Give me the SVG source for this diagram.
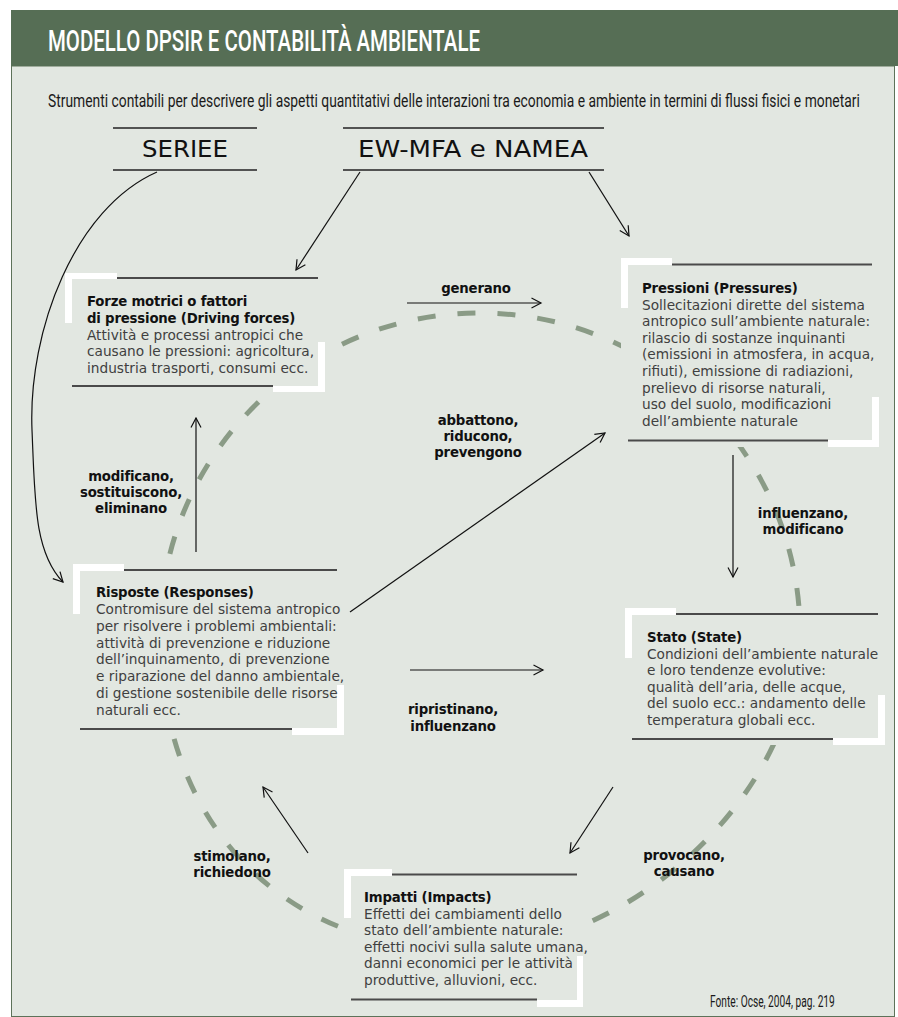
<svg xmlns="http://www.w3.org/2000/svg" width="898" height="1017" viewBox="0 0 898 1017">
<defs>
<marker id="arr" viewBox="0 0 12 12" refX="10.5" refY="6" markerWidth="12" markerHeight="12" markerUnits="userSpaceOnUse" orient="auto">
<path d="M1,1 L10.5,6 L1,11" fill="none" stroke="#111" stroke-width="1.2"/>
</marker>
<style>
.bg{fill:#e2e7e1}
.w{fill:#ffffff}
.edge{stroke:#4a4a4a;stroke-width:1.8}
.rule{stroke:#222;stroke-width:1.3}
.ttl{font-family:'DejaVu Sans','Liberation Sans',sans-serif;font-size:13.3px;font-weight:700;fill:#111;letter-spacing:-0.2px}
.txt{font-family:'DejaVu Sans','Liberation Sans',sans-serif;font-size:13.7px;fill:#404040}
.lbl{font-family:'DejaVu Sans','Liberation Sans',sans-serif;font-size:13.3px;font-weight:700;fill:#111;text-anchor:middle;letter-spacing:-0.2px}
.con{fill:none;stroke:#111;stroke-width:1.2;marker-end:url(#arr)}
.cond{font-family:Roboto,'Liberation Sans',sans-serif}
.big{font-family:'DejaVu Sans','Liberation Sans',sans-serif;font-size:23px;fill:#111;text-anchor:middle}
</style>
</defs>
<rect x="0" y="0" width="898" height="1017" fill="#ffffff"/>
<rect x="11.5" y="66" width="883" height="950.5" class="bg" stroke="#5d7259" stroke-width="1"/>
<rect x="11" y="10" width="887" height="56" fill="#566e55"/>
<text class="cond" x="48" y="50.5" font-size="30" font-weight="500" fill="#ffffff" textLength="432" lengthAdjust="spacingAndGlyphs">MODELLO DPSIR E CONTABILITÀ AMBIENTALE</text>
<text class="cond" transform="translate(48,107) scale(0.73,1)" x="0" y="0" font-size="19" fill="#1a1a1a" textLength="1112" lengthAdjust="spacingAndGlyphs">Strumenti contabili per descrivere gli aspetti quantitativi delle interazioni tra economia e ambiente in termini di flussi fisici e monetari</text>

<g id="seriee">
<line class="rule" x1="113" y1="128" x2="257" y2="128"/>
<line class="rule" x1="113" y1="170" x2="257" y2="170"/>
<text class="big" x="185" y="157" textLength="86" lengthAdjust="spacingAndGlyphs">SERIEE</text>
</g>
<g id="ewmfa">
<line class="rule" x1="343" y1="128" x2="604" y2="128"/>
<line class="rule" x1="343" y1="170" x2="604" y2="170"/>
<text class="big" x="473" y="157" textLength="230" lengthAdjust="spacingAndGlyphs">EW-MFA e NAMEA</text>
</g>

<path id="cycle" d="M160,633 C160,456.3 303.3,313 480,313 C656.7,313 800,456.3 800,633 C800,791.5 632.5,950 465,950 C282,950 160,823 160,633 Z" fill="none" stroke="#8a9b86" stroke-width="5" stroke-dasharray="18 22"/>

<g id="connectors">
<path class="con" d="M157,172 C75,208 28,330 32,430 C35,500 34,552 63,582"/>
<line class="con" x1="360" y1="172" x2="296" y2="270"/>
<line class="con" x1="589" y1="172" x2="629" y2="236"/>
<line class="con" x1="407" y1="303" x2="541" y2="303"/>
<line class="con" x1="196" y1="552" x2="196" y2="418"/>
<line class="con" x1="350" y1="612" x2="605" y2="433"/>
<line class="con" x1="733" y1="455" x2="733" y2="577"/>
<line class="con" x1="410" y1="670" x2="543" y2="670"/>
<line class="con" x1="613" y1="787" x2="570" y2="853"/>
<line class="con" x1="308" y1="853" x2="263" y2="787"/>
<text class="lbl" x="476" y="293">generano</text>
<text class="lbl" x="478" y="425">abbattono,</text>
<text class="lbl" x="478" y="441">riducono,</text>
<text class="lbl" x="478" y="457">prevengono</text>
<text class="lbl" x="131" y="481">modificano,</text>
<text class="lbl" x="131" y="497">sostituiscono,</text>
<text class="lbl" x="131" y="513">eliminano</text>
<text class="lbl" x="803" y="518">influenzano,</text>
<text class="lbl" x="803" y="534">modificano</text>
<text class="lbl" x="453" y="714">ripristinano,</text>
<text class="lbl" x="453" y="731">influenzano</text>
<text class="lbl" x="232" y="861">stimolano,</text>
<text class="lbl" x="232" y="877">richiedono</text>
<text class="lbl" x="684" y="860">provocano,</text>
<text class="lbl" x="684" y="876">causano</text>
</g>

<g id="driving">
<rect class="bg" x="65" y="273" width="260" height="119"/>
<rect class="w" x="65" y="273" width="52" height="6"/>
<rect class="w" x="65" y="273" width="7" height="50"/>
<rect class="w" x="273" y="386" width="52" height="6"/>
<rect class="w" x="318" y="342" width="7" height="50"/>
<line class="edge" x1="117" y1="278" x2="318" y2="278"/>
<line class="edge" x1="72" y1="386" x2="273" y2="386"/>
<text class="ttl" x="87" y="306">Forze motrici o fattori</text>
<text class="ttl" x="87" y="323">di pressione (Driving forces)</text>
<text class="txt" x="87" y="340">Attività e processi antropici che</text>
<text class="txt" x="87" y="356">causano le pressioni: agricoltura,</text>
<text class="txt" x="87" y="373">industria trasporti, consumi ecc.</text>
</g>

<g id="pressures">
<rect class="bg" x="621" y="258" width="258" height="189"/>
<rect class="w" x="621" y="258" width="51" height="7"/>
<rect class="w" x="621" y="258" width="7" height="50"/>
<rect class="w" x="828" y="440" width="51" height="7"/>
<rect class="w" x="872" y="397" width="7" height="50"/>
<line class="edge" x1="672" y1="264.5" x2="872" y2="264.5"/>
<line class="edge" x1="628" y1="440.5" x2="828" y2="440.5"/>
<text class="ttl" x="642" y="293">Pressioni (Pressures)</text>
<text class="txt" x="642" y="309.5">Sollecitazioni dirette del sistema</text>
<text class="txt" x="642" y="326">antropico sull’ambiente naturale:</text>
<text class="txt" x="642" y="343">rilascio di sostanze inquinanti</text>
<text class="txt" x="642" y="359">(emissioni in atmosfera, in acqua,</text>
<text class="txt" x="642" y="376">rifiuti), emissione di radiazioni,</text>
<text class="txt" x="642" y="393">prelievo di risorse naturali,</text>
<text class="txt" x="642" y="409">uso del suolo, modificazioni</text>
<text class="txt" x="642" y="426">dell’ambiente naturale</text>
</g>

<g id="responses">
<rect class="bg" x="73" y="564" width="271" height="171"/>
<rect class="w" x="73" y="564" width="51" height="7"/>
<rect class="w" x="73" y="564" width="7" height="50"/>
<rect class="w" x="292" y="728" width="52" height="7"/>
<rect class="w" x="337" y="685" width="7" height="50"/>
<line class="edge" x1="124" y1="570" x2="337" y2="570"/>
<line class="edge" x1="80" y1="729" x2="292" y2="729"/>
<text class="ttl" x="96" y="597">Risposte (Responses)</text>
<text class="txt" x="96" y="614">Contromisure del sistema antropico</text>
<text class="txt" x="96" y="631">per risolvere i problemi ambientali:</text>
<text class="txt" x="96" y="648">attività di prevenzione e riduzione</text>
<text class="txt" x="96" y="664">dell’inquinamento, di prevenzione</text>
<text class="txt" x="96" y="681">e riparazione del danno ambientale,</text>
<text class="txt" x="96" y="698">di gestione sostenibile delle risorse</text>
<text class="txt" x="96" y="715">naturali ecc.</text>
</g>

<g id="state">
<rect class="bg" x="625" y="608" width="260" height="137"/>
<rect class="w" x="625" y="608" width="51" height="7"/>
<rect class="w" x="625" y="608" width="7" height="50"/>
<rect class="w" x="833" y="738" width="52" height="7"/>
<rect class="w" x="878" y="695" width="7" height="50"/>
<line class="edge" x1="676" y1="614" x2="878" y2="614"/>
<line class="edge" x1="632" y1="739" x2="833" y2="739"/>
<text class="ttl" x="647" y="642">Stato (State)</text>
<text class="txt" x="647" y="659">Condizioni dell’ambiente naturale</text>
<text class="txt" x="647" y="675">e loro tendenze evolutive:</text>
<text class="txt" x="647" y="692">qualità dell’aria, delle acque,</text>
<text class="txt" x="647" y="708">del suolo ecc.: andamento delle</text>
<text class="txt" x="647" y="725">temperatura globali ecc.</text>
</g>

<g id="impacts">
<rect class="bg" x="344" y="869" width="239" height="138"/>
<rect class="w" x="344" y="869" width="48" height="7"/>
<rect class="w" x="344" y="869" width="7" height="49"/>
<rect class="w" x="537" y="1000" width="46" height="7"/>
<rect class="w" x="577" y="956" width="6" height="51"/>
<line class="edge" x1="392" y1="874.5" x2="577" y2="874.5"/>
<line class="edge" x1="351" y1="999.5" x2="537" y2="999.5"/>
<text class="ttl" x="364" y="902">Impatti (Impacts)</text>
<text class="txt" x="364" y="919">Effetti dei cambiamenti dello</text>
<text class="txt" x="364" y="935">stato dell’ambiente naturale:</text>
<text class="txt" x="364" y="952">effetti nocivi sulla salute umana,</text>
<text class="txt" x="364" y="968">danni economici per le attività</text>
<text class="txt" x="364" y="985">produttive, alluvioni, ecc.</text>
</g>

<text class="cond" transform="translate(710,1007) scale(0.6,1)" x="0" y="0" font-size="17" fill="#1a1a1a" textLength="208" lengthAdjust="spacingAndGlyphs">Fonte: Ocse, 2004, pag. 219</text>
</svg>
